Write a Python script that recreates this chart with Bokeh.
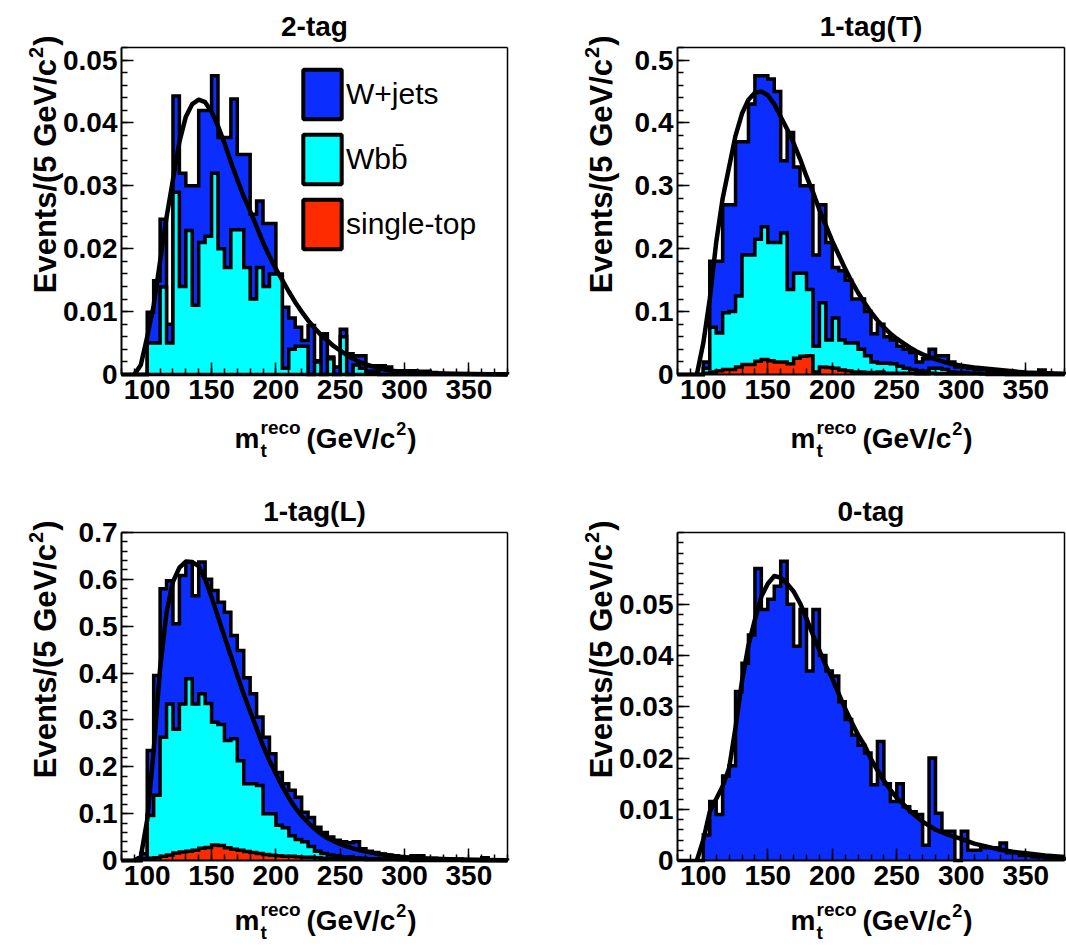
import math
from bokeh.plotting import figure
from bokeh.models import (Range1d, FixedTicker, Legend, LegendItem, Label, LinearAxis)
from bokeh.layouts import column, row
from bokeh.embed import file_html
from bokeh.resources import INLINE

FONT = "Liberation Sans"

# ---------------- data ----------------
mass_edges = list(range(80, 385, 5))   # 5 GeV/c^2 bins, 80..380

# 2-tag
tag2_wjets = [0, 0, 0, 0, 0.0099, 0.0149, 0.0247, 0.008, 0.0443, 0.032,
              0.030, 0.030, 0.042, 0.042, 0.0475, 0.0377, 0.0377, 0.0438, 0.035, 0.035,
              0.0255, 0.0276, 0.024, 0.024, 0.0155, 0.0107, 0.009, 0.0075, 0.0054, 0.0078,
              0.0022, 0.0065, 0.0028, 0.0012, 0.0072, 0.0033, 0.003, 0.003, 0.0014, 0.0014,
              0.0014, 0.0012, 0.0006, 0.0006, 0.0006, 0.0006, 0.0005, 0.0005, 0.0003, 0.0002,
              0.0001, 0.0001, 0.0001, 0.0001, 0.0001, 0.0001, 0.0001, 0.0001, 0.0001, 0.0001]
tag2_wbb = [0, 0, 0, 0, 0.005, 0.005, 0.0139, 0.005, 0.029, 0.014,
            0.0229, 0.011, 0.021, 0.022, 0.032, 0.020, 0.017, 0.023, 0.023, 0.017,
            0.012, 0.017, 0.014, 0.016, 0.016, 0.001, 0.004, 0.0045, 0.0045, 0.0,
            0.002, 0.0, 0.0025, 0.0, 0.006, 0.0, 0.0015, 0.001, 0.0005, 0.0005,
            0, 0, 0, 0, 0, 0, 0, 0, 0, 0,
            0, 0, 0, 0, 0, 0, 0, 0, 0, 0]
tag2_stop = [0] * 60
tag2_fit_x = [90, 95, 100, 105, 110, 115, 120, 125, 130, 135, 140, 145, 150, 155, 160, 165,
              170, 175, 180, 185, 190, 195, 200, 205, 210, 215, 220, 225, 230, 235, 240, 245,
              250, 255, 260, 265, 270, 280, 290, 300, 320, 340, 380]
tag2_fit_y = [0, 0.0015, 0.006, 0.011, 0.018, 0.025, 0.031, 0.037, 0.041, 0.043, 0.0437, 0.0433,
              0.0418, 0.0395, 0.0368, 0.0338, 0.031, 0.0283, 0.026, 0.0235, 0.021, 0.0188, 0.0168,
              0.015, 0.0132, 0.0115, 0.01, 0.0086, 0.0074, 0.0063, 0.0054, 0.0045, 0.0038, 0.0031,
              0.0025, 0.002, 0.0016, 0.001, 0.0006, 0.0004, 0.0002, 0.0001, 0.0]

# 1-tag(T)
tagT_wjets = [0, 0, 0, 0, 0.02, 0.18, 0.18, 0.27, 0.27, 0.37,
              0.37, 0.43, 0.475, 0.475, 0.47, 0.45, 0.34, 0.385, 0.33, 0.30,
              0.30, 0.19, 0.27, 0.21, 0.17, 0.165, 0.15, 0.12, 0.12, 0.10,
              0.065, 0.08, 0.06, 0.055, 0.045, 0.04, 0.035, 0.02, 0.025, 0.04,
              0.03, 0.03, 0.02, 0.012, 0.012, 0.01, 0.008, 0.008, 0.006, 0.005,
              0.005, 0.004, 0.004, 0.002, 0.002, 0.002, 0.007, 0.002, 0.001, 0.001]
tagT_wbb = [0, 0, 0, 0, 0.01, 0.075, 0.066, 0.098, 0.10, 0.125,
            0.19, 0.19, 0.215, 0.235, 0.21, 0.21, 0.225, 0.135, 0.161, 0.161,
            0.135, 0.045, 0.114, 0.055, 0.09, 0.055, 0.05, 0.05, 0.04, 0.03,
            0.02, 0.018, 0.018, 0.017, 0.013, 0.01, 0.008, 0.006, 0.005, 0.01,
            0.01, 0.008, 0.004, 0.003, 0.003, 0.002, 0.002, 0.001, 0.001, 0.0005,
            0.0005, 0, 0, 0, 0, 0, 0, 0, 0, 0]
tagT_stop = [0, 0, 0, 0, 0.002, 0.004, 0.006, 0.008, 0.008, 0.012,
             0.016, 0.016, 0.021, 0.024, 0.022, 0.02, 0.02, 0.017, 0.026, 0.029,
             0.03, 0.004, 0.012, 0.011, 0.01, 0.007, 0.006, 0.004, 0.004, 0.003,
             0.003, 0.004, 0.002, 0.002, 0.002, 0.002, 0.002, 0.001, 0.001, 0.002,
             0.001, 0.001, 0.001, 0.001, 0.001, 0.001, 0.001, 0.001, 0, 0,
             0, 0, 0, 0, 0, 0, 0, 0, 0, 0]
tagT_fit_x = [95, 100, 105, 110, 115, 120, 125, 130, 135, 140, 145, 150, 155, 160, 165, 170,
              175, 180, 185, 190, 195, 200, 205, 210, 215, 220, 225, 230, 235, 240, 245, 250,
              255, 260, 265, 270, 275, 280, 290, 300, 310, 320, 330, 340, 350, 365, 380]
tagT_fit_y = [0, 0.05, 0.12, 0.21, 0.28, 0.33, 0.38, 0.415, 0.437, 0.448, 0.45, 0.444, 0.43,
              0.41, 0.39, 0.368, 0.343, 0.315, 0.29, 0.262, 0.237, 0.212, 0.19, 0.168, 0.148,
              0.13, 0.114, 0.099, 0.086, 0.075, 0.065, 0.057, 0.05, 0.043, 0.037, 0.032, 0.028,
              0.024, 0.018, 0.014, 0.011, 0.009, 0.007, 0.005, 0.003, 0.002, 0.001]

# 1-tag(L)
tagL_wjets = [0, 0, 0, 0.015, 0.235, 0.395, 0.58, 0.597, 0.505, 0.608,
              0.637, 0.565, 0.637, 0.60, 0.576, 0.551, 0.53, 0.48, 0.448, 0.39,
              0.356, 0.306, 0.263, 0.228, 0.188, 0.164, 0.15, 0.135, 0.103, 0.092,
              0.071, 0.06, 0.05, 0.043, 0.04, 0.038, 0.04, 0.025, 0.02, 0.017,
              0.014, 0.012, 0.01, 0.008, 0.007, 0.01, 0.01, 0.005, 0.005, 0.004,
              0.004, 0.003, 0.003, 0.002, 0.002, 0.002, 0.006, 0.001, 0.001, 0.001]
tagL_wbb = [0, 0, 0, 0.003, 0.096, 0.139, 0.263, 0.334, 0.28, 0.334,
            0.388, 0.334, 0.356, 0.335, 0.295, 0.29, 0.256, 0.26, 0.213, 0.164,
            0.164, 0.16, 0.1, 0.1, 0.075, 0.07, 0.053, 0.045, 0.04, 0.03,
            0.02, 0.015, 0.012, 0.01, 0.008, 0.008, 0.006, 0.005, 0.004, 0.004,
            0.003, 0.003, 0.003, 0.002, 0.002, 0.002, 0.001, 0.001, 0.001, 0.001,
            0.001, 0.001, 0.001, 0, 0, 0, 0, 0, 0, 0]
tagL_stop = [0, 0, 0, 0.003, 0.005, 0.006, 0.009, 0.012, 0.016, 0.018,
             0.02, 0.022, 0.026, 0.028, 0.033, 0.032, 0.027, 0.024, 0.022, 0.019,
             0.017, 0.015, 0.013, 0.011, 0.01, 0.009, 0.009, 0.008, 0.007, 0.007,
             0.006, 0.005, 0.005, 0.004, 0.004, 0.003, 0.003, 0.003, 0.002, 0.002,
             0.002, 0.002, 0.002, 0.002, 0.002, 0, 0, 0, 0, 0,
             0, 0, 0, 0, 0, 0, 0, 0, 0, 0]
tagL_fit_x = [90, 95, 100, 105, 110, 115, 120, 125, 130, 135, 140, 145, 150, 155, 160, 165,
              170, 175, 180, 185, 190, 195, 200, 205, 210, 215, 220, 225, 230, 235, 240, 245,
              250, 255, 260, 265, 270, 280, 290, 300, 310, 320, 330, 340, 360, 380]
tagL_fit_y = [0, 0.008, 0.087, 0.235, 0.41, 0.53, 0.595, 0.625, 0.638, 0.637, 0.628, 0.6,
              0.562, 0.52, 0.478, 0.437, 0.395, 0.355, 0.318, 0.282, 0.245, 0.213, 0.185, 0.158,
              0.134, 0.113, 0.095, 0.081, 0.068, 0.057, 0.048, 0.041, 0.035, 0.03, 0.026, 0.022,
              0.019, 0.014, 0.01, 0.007, 0.005, 0.004, 0.003, 0.002, 0.001, 0.0005]

# 0-tag
tag0_wjets = [0, 0, 0, 0, 0.005, 0.0115, 0.009, 0.0165, 0.0185, 0.033,
              0.0385, 0.044, 0.057, 0.049, 0.051, 0.0535, 0.0584, 0.05, 0.0418, 0.049,
              0.037, 0.049, 0.040, 0.037, 0.036, 0.031, 0.0275, 0.0245, 0.0225, 0.021,
              0.0148, 0.0232, 0.015, 0.0115, 0.015, 0.0105, 0.0095, 0.009, 0.003, 0.02,
              0.0092, 0.0057, 0.0057, 0.0, 0.0057, 0.002, 0.002, 0.0025, 0.0025, 0.0025,
              0.0034, 0.0015, 0.0015, 0.001, 0.001, 0.0007, 0.0007, 0.0005, 0.0005, 0.0003]
tag0_fit_x = [95, 100, 105, 110, 115, 120, 125, 130, 135, 140, 145, 150, 155, 160, 165, 170,
              175, 180, 185, 190, 195, 200, 205, 210, 215, 220, 225, 230, 235, 240, 245, 250,
              255, 260, 265, 270, 275, 280, 290, 300, 310, 320, 330, 340, 350, 365, 380]
tag0_fit_y = [0, 0.004, 0.0095, 0.012, 0.0145, 0.018, 0.026, 0.035, 0.042, 0.047, 0.0515,
              0.054, 0.0555, 0.0552, 0.054, 0.0525, 0.0502, 0.0472, 0.044, 0.041, 0.038, 0.0355,
              0.0325, 0.0296, 0.027, 0.0245, 0.0225, 0.0198, 0.0176, 0.0156, 0.0138, 0.0122,
              0.011, 0.0097, 0.0086, 0.0076, 0.0068, 0.006, 0.005, 0.0042, 0.0033, 0.0027,
              0.0021, 0.0017, 0.0014, 0.001, 0.0007]

panel_titles = ["2-tag", "1-tag(T)", "1-tag(L)", "0-tag"]
legend_labels = ["W+jets", "Wbb\u0304", "single-top"]
x_ticks = [100, 150, 200, 250, 300, 350]
x_title_parts = ["m", "reco", "t", "(GeV/c", "2", ")"]
y_title_parts = ["Events/(5 GeV/c", "2", ")"]

COL_W = "#0B2EFF"
COL_B = "#00FFFF"
COL_S = "#FF2B00"

FIG_W, FIG_H = 533, 474
X_LO, X_HI = 80, 380
MID = 0.34   # distance from baseline to the text middle, in em

# ---------------- helpers ----------------
def add_hist(p, vals, color):
    xs = mass_edges
    p.varea_step(x=xs, y1=[0] * len(xs), y2=list(vals) + [0], step_mode="after",
                 fill_color=color, fill_alpha=1.0)
    p.step(x=[mass_edges[0]] + mass_edges, y=[0] + list(vals) + [0], mode="after",
           line_color="black", line_width=3.5, line_join="miter")


def text(p, x, y, s, size, angle=0.0, align="left", style="bold"):
    # x, y: pixel position (middle of the text line) in the figure, y from the top
    p.add_layout(Label(x=x, y=FIG_H - y, x_units="screen", y_units="screen", text=s,
                       text_font=FONT, text_font_size=f"{size}px", text_font_style=style,
                       text_color="black", angle=angle, text_align=align,
                       text_baseline="middle"))


def make_panel(title, ymax, yticks, ylabels, yminor, box, xt_base):
    L, R, T, B = box
    gx = (X_HI - X_LO) / (R - L)
    gy = ymax / (B - T)
    p = figure(width=FIG_W, height=FIG_H, output_backend="svg", toolbar_location=None,
               x_range=Range1d(X_LO - L * gx, X_HI + (FIG_W - R) * gx),
               y_range=Range1d(-(FIG_H - B) * gy, ymax + T * gy),
               min_border_left=0, min_border_right=0, min_border_top=0, min_border_bottom=0)
    p.title.visible = False
    p.xgrid.visible = False
    p.ygrid.visible = False
    p.background_fill_color = "white"
    p.border_fill_color = "white"
    p.outline_line_color = None

    p.xaxis.fixed_location = 0
    p.yaxis.fixed_location = X_LO
    p.xaxis.bounds = (X_LO, X_HI)
    p.yaxis.bounds = (0, ymax)
    p.xaxis.ticker = FixedTicker(ticks=x_ticks, minor_ticks=list(range(80, 381, 10)))
    p.yaxis.ticker = FixedTicker(ticks=yticks, minor_ticks=yminor)
    p.yaxis.major_label_overrides = {t: l for t, l in zip(yticks, ylabels)}
    for ax in (p.xaxis[0], p.yaxis[0]):
        ax.axis_line_width = 2
        ax.axis_line_color = "black"
        ax.major_tick_in = 12
        ax.major_tick_out = 0
        ax.minor_tick_in = 6
        ax.minor_tick_out = 0
        ax.major_tick_line_width = 1.5
        ax.minor_tick_line_width = 1.5
        ax.major_label_text_font = FONT
        ax.major_label_text_font_size = "28px"
        ax.major_label_text_font_style = "bold"
        ax.major_label_text_color = "black"
    p.xaxis.major_label_standoff = 5
    p.yaxis.major_label_standoff = 4

    # frame: top and right edges
    top = LinearAxis(fixed_location=ymax, bounds=(X_LO, X_HI), ticker=FixedTicker(ticks=[]),
                     axis_line_width=1.5, major_tick_in=0, major_tick_out=0,
                     minor_tick_in=0, minor_tick_out=0, major_label_text_alpha=0)
    right = LinearAxis(fixed_location=X_HI, bounds=(0, ymax), ticker=FixedTicker(ticks=[]),
                       axis_line_width=1.5, major_tick_in=0, major_tick_out=0,
                       minor_tick_in=0, minor_tick_out=0, major_label_text_alpha=0)
    p.add_layout(top, "above")
    p.add_layout(right, "right")

    # panel title
    text(p, (L + R) / 2, T - 11 - MID * 28, title, 28, align="center")

    # x title:  m_t^reco (GeV/c^2)
    mx = L + 113
    base = B + xt_base
    text(p, mx, base - MID * 28, x_title_parts[0], 28)
    text(p, mx + 26, base - 15 - MID * 19, x_title_parts[1], 19)
    text(p, mx + 26, base + 8 - MID * 19, x_title_parts[2], 19)
    gx0 = mx + 72
    text(p, gx0, base - MID * 28, x_title_parts[3], 28)
    w_main = 3.168 * 28
    text(p, gx0 + w_main + 1, base - 14 - MID * 18, x_title_parts[4], 18)
    text(p, gx0 + w_main + 12, base - MID * 28, x_title_parts[5], 28)

    # y title (rotated, reading upwards, ending near the top of the frame)
    yc = L - 76
    ytop = T - 12
    text(p, yc, ytop, y_title_parts[2], 31, angle=math.pi / 2, align="right")
    text(p, yc - 10, ytop + 0.333 * 31 + 1, y_title_parts[1], 20,
         angle=math.pi / 2, align="right")
    text(p, yc, ytop + 0.333 * 31 + 0.556 * 20 + 2, y_title_parts[0], 31,
         angle=math.pi / 2, align="right")
    return p


def minor(step, top):
    n = int(round(top / step))
    return [round(i * step, 4) for i in range(n + 1)]

# ---------------- panels ----------------
p1 = make_panel(panel_titles[0], 0.052, [0, 0.01, 0.02, 0.03, 0.04, 0.05],
                ["0", "0.01", "0.02", "0.03", "0.04", "0.05"], minor(0.002, 0.052),
                (121, 507, 47, 374), 74)
add_hist(p1, tag2_wjets, COL_W)
add_hist(p1, tag2_wbb, COL_B)
add_hist(p1, tag2_stop, COL_S)
p1.line(tag2_fit_x, tag2_fit_y, line_color="black", line_width=4.5, line_join="round")

nan = float("nan")
leg_items = []
for lab, col in zip(legend_labels, [COL_W, COL_B, COL_S]):
    r = p1.quad(left=[nan], right=[nan], top=[nan], bottom=[nan], fill_color=col,
                line_color="black", line_width=4)
    leg_items.append(LegendItem(label=lab, renderers=[r]))
legend = Legend(items=leg_items, location=(298, 219), orientation="vertical",
                glyph_width=48, glyph_height=62, spacing=3, padding=0, margin=0,
                label_standoff=0, label_text_font=FONT, label_text_font_size="30px",
                label_text_font_style="normal", label_text_color="black",
                border_line_alpha=0, background_fill_alpha=0)
p1.add_layout(legend)

p2 = make_panel(panel_titles[1], 0.52, [0, 0.1, 0.2, 0.3, 0.4, 0.5],
                ["0", "0.1", "0.2", "0.3", "0.4", "0.5"], minor(0.02, 0.52),
                (144, 531, 47, 374), 74)
add_hist(p2, tagT_wjets, COL_W)
add_hist(p2, tagT_wbb, COL_B)
add_hist(p2, tagT_stop, COL_S)
p2.line(tagT_fit_x, tagT_fit_y, line_color="black", line_width=4.5, line_join="round")

p3 = make_panel(panel_titles[2], 0.70, [0, 0.1, 0.2, 0.3, 0.4, 0.5, 0.6, 0.7],
                ["0", "0.1", "0.2", "0.3", "0.4", "0.5", "0.6", "0.7"], minor(0.02, 0.70),
                (121, 507, 58, 386), 70)
add_hist(p3, tagL_wjets, COL_W)
add_hist(p3, tagL_wbb, COL_B)
add_hist(p3, tagL_stop, COL_S)
p3.line(tagL_fit_x, tagL_fit_y, line_color="black", line_width=4.5, line_join="round")

p4 = make_panel(panel_titles[3], 0.064, [0, 0.01, 0.02, 0.03, 0.04, 0.05],
                ["0", "0.01", "0.02", "0.03", "0.04", "0.05"], minor(0.002, 0.064),
                (144, 531, 58, 386), 70)
add_hist(p4, tag0_wjets, COL_W)
p4.line(tag0_fit_x, tag0_fit_y, line_color="black", line_width=4.5, line_join="round")

layout = column(row(p1, p2), row(p3, p4))
open("out.html", "w").write(file_html(layout, INLINE))
